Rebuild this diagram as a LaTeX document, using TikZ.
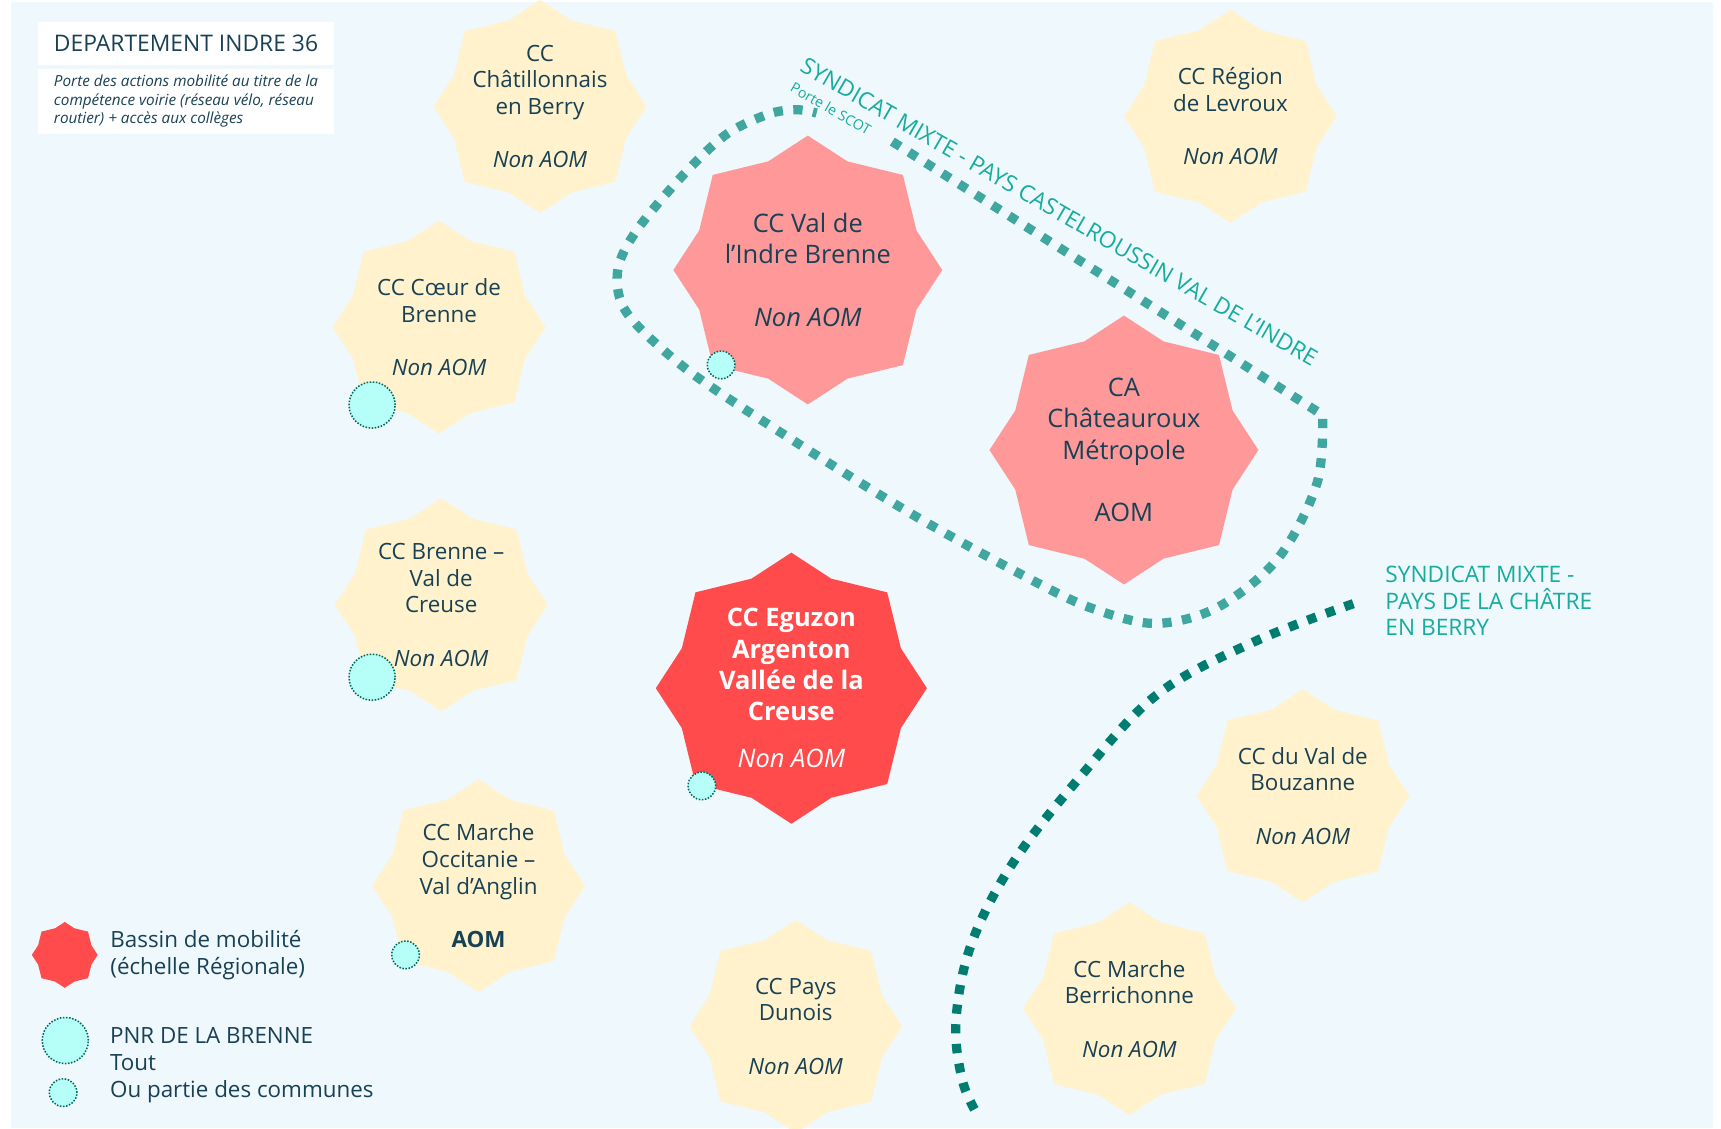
\documentclass[tikz,border=0pt]{standalone}
\usepackage{fontspec}
\setmainfont{Open Sans}
\usetikzlibrary{positioning,calc,backgrounds}
\definecolor{bgblue}{RGB}{239,248,253}
\definecolor{staryellow}{RGB}{255,242,204}
\definecolor{starpink}{RGB}{255,153,153}
\definecolor{starred}{RGB}{255,75,75}
\definecolor{txtdark}{RGB}{25,65,85}
\definecolor{syndteal}{RGB}{22,172,158}
\definecolor{loopteal}{RGB}{64,166,160}
\definecolor{chatreteal}{RGB}{0,125,112}
\definecolor{pnrfill}{RGB}{182,255,248}
\definecolor{pnrline}{RGB}{0,105,95}
\tikzstyle{ytxt}=[text=txtdark, align=center, inner sep=0pt, font=\fontsize{14.5}{17.3}\selectfont]
\tikzstyle{ptxt}=[text=txtdark, align=center, inner sep=0pt, font=\fontsize{16.5}{20.3}\selectfont]
\tikzstyle{rtxt}=[text=white, align=center, inner sep=0pt, font=\fontsize{16.5}{20.3}\selectfont]
\tikzstyle{legtxt}=[text=txtdark, align=left, inner sep=0pt, font=\fontsize{14.5}{17.3}\selectfont]
\tikzstyle{synd}=[text=syndteal, inner sep=0pt, font=\fontsize{14.7}{17.3}\selectfont]
\tikzstyle{titlebox}=[rectangle, fill=white, text=txtdark, minimum width=6.73cm, inner sep=0pt]
\tikzstyle{pnrbig}=[circle, draw=pnrline, fill=pnrfill, densely dotted, line width=1pt, minimum size=1.05cm, inner sep=0pt]
\tikzstyle{pnrsmall}=[circle, draw=pnrline, fill=pnrfill, densely dotted, line width=1pt, minimum size=0.63cm, inner sep=0pt]
\tikzstyle{sline}=[line width=6pt, dash pattern=on 6pt off 6.8pt]
% eight-point star behind a named node: name, radius, colour
\newcommand{\octostar}[3]{\fill[#3] ($(#1)+(0:#2)$) \foreach \k in {0,90,180,270}{ -- ($(#1)+({\k+20}:{0.86*#2})$) -- ($(#1)+({\k+45}:#2)$) -- ($(#1)+({\k+70}:{0.86*#2})$) -- ($(#1)+({\k+90}:#2)$)} -- cycle;}
\begin{document}
\begin{tikzpicture}[x=0.025cm, y=-0.025cm]
\useasboundingbox (0,0) rectangle (1568,1028);
\node (DEPT) [titlebox, minimum height=0.98cm, font=\fontsize{14.8}{17}\selectfont] at (169.5,39.5) {DEPARTEMENT INDRE 36};
\node (DEPTNOTE) [titlebox, below=0.075cm of DEPT, minimum height=1.475cm, align=left, font=\fontsize{9.9}{12}\selectfont\itshape] {Porte des actions mobilité au titre de la\\compétence voirie (réseau vélo, réseau\\routier) + accès aux collèges};
\node (CHATILLON) [ytxt] at (492,97) {CC\\Châtillonnais\\en Berry\\[17.3pt]\textit{Non AOM}};
\node (LEVROUX) [ytxt] at (1121,106) {CC Région\\de Levroux\\[17.3pt]\textit{Non AOM}};
\node (COEUR) [ytxt] at (400,298) {CC Cœur de\\Brenne\\[17.3pt]\textit{Non AOM}};
\node (BRENNEVC) [ytxt] at (402,551) {CC Brenne –\\Val de\\Creuse\\[17.3pt]\textit{Non AOM}};
\node (OCCITANIE) [ytxt] at (436,807) {CC Marche\\Occitanie –\\Val d’Anglin\\[17.3pt]\textbf{AOM}};
\node (DUNOIS) [ytxt] at (725,935) {CC Pays\\Dunois\\[17.3pt]\textit{Non AOM}};
\node (BOUZANNE) [ytxt] at (1187,725) {CC du Val de\\Bouzanne\\[17.3pt]\textit{Non AOM}};
\node (BERRICHONNE) [ytxt] at (1029,919) {CC Marche\\Berrichonne\\[17.3pt]\textit{Non AOM}};
\node (VALINDRE) [ptxt] at (736,246) {CC Val de\\l’Indre Brenne\\[20.3pt]\textit{Non AOM}};
\node (CHATEAUROUX) [ptxt] at (1024,410) {CA\\Châteauroux\\Métropole\\[20.3pt]AOM};
\node (EGUZON) [rtxt] at (721,627) {\textbf{CC Eguzon}\\\textbf{Argenton}\\\textbf{Vallée de la}\\\textbf{Creuse}\\[10pt]\textit{Non AOM}};
\draw[sline, loopteal] (813,129) -- (1205,378) -- plot[smooth, tension=0.55] coordinates {(1205,378) (1200,440) (1165,508) (1110,553) (1054,568) (1000,556) (945,531) (820,462) (659,360) (601,316) (568,280) (563,245) (580,210) (621,161) (661,123) (700,104) (726,100) (744,103)};
\draw[sline, chatreteal] plot[smooth, tension=0.6] coordinates {(1233,550) (1142,585) (1054,633) (984,708) (923,786) (885,860) (871,930) (877,985) (892,1018)};
\node (SMCAST) [synd, rotate=-30] at (965,193) {SYNDICAT MIXTE - PAYS CASTELROUSSIN VAL DE L’INDRE};
\node (SCOT) [synd, rotate=-30, font=\fontsize{9.2}{11}\selectfont] at (757,99) {Porte le SCOT};
\node (SMCHATRE) [synd, align=left, anchor=west] at (1262,547.5) {SYNDICAT MIXTE -\\PAYS DE LA CHÂTRE\\EN BERRY};
\node (PNRCOEUR) [pnrbig] at (339,369) {};
\node (PNRBRENNEVC) [pnrbig] at (339,617) {};
\node (PNRVALINDRE) [pnrsmall] at (657,332.5) {};
\node (PNREGUZON) [pnrsmall] at (639.5,716) {};
\node (PNROCCITANIE) [pnrsmall] at (369.5,870) {};
\node (LEGBASSIN) [inner sep=0pt, minimum size=1.5cm] at (59,870) {};
\node (LEGBASSINTXT) [legtxt, right=0.275cm of LEGBASSIN] {Bassin de mobilité\\(échelle Régionale)};
\node (LEGPNRALL) [pnrbig] at (59.5,948) {};
\node (LEGPNRPART) [pnrsmall] at (57.5,995.5) {};
\node (LEGPNRTXT) [legtxt, anchor=west] at (100,970.5) {PNR DE LA BRENNE\\Tout\\Ou partie des communes};
\begin{scope}[on background layer]
\fill[white] (0,0) rectangle (1568,1028);
\fill[bgblue] (10,2) rectangle (1561,1028);
\octostar{CHATILLON}{97}{staryellow}
\octostar{LEVROUX}{97}{staryellow}
\octostar{COEUR}{97}{staryellow}
\octostar{BRENNEVC}{97}{staryellow}
\octostar{OCCITANIE}{97}{staryellow}
\octostar{DUNOIS}{97}{staryellow}
\octostar{BOUZANNE}{97}{staryellow}
\octostar{BERRICHONNE}{97}{staryellow}
\octostar{VALINDRE}{122.5}{starpink}
\octostar{CHATEAUROUX}{122.5}{starpink}
\octostar{EGUZON}{123.5}{starred}
\octostar{LEGBASSIN}{30}{starred}
\end{scope}
\end{tikzpicture}
\end{document}
